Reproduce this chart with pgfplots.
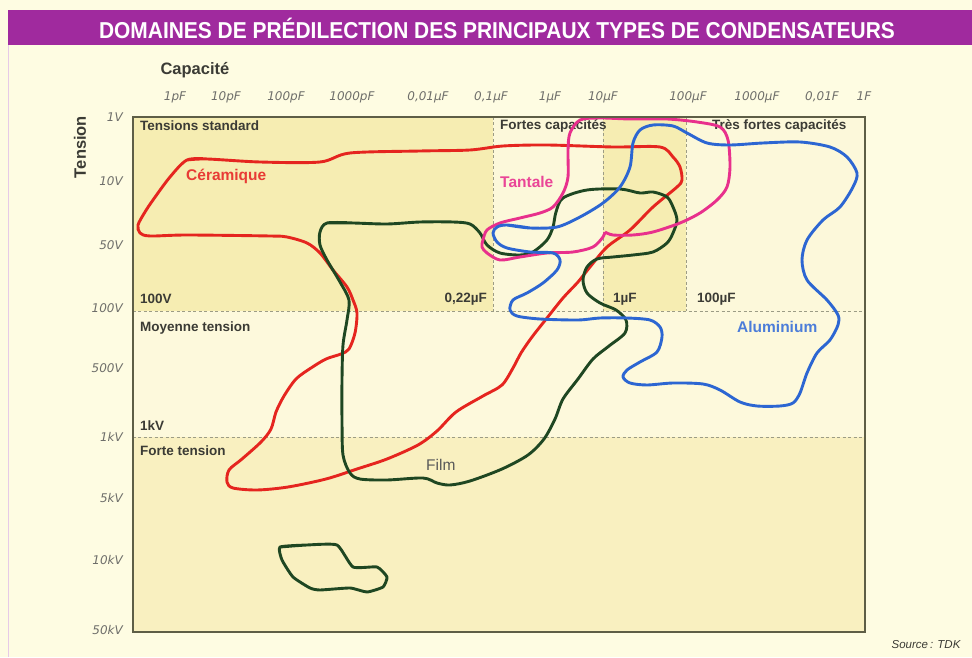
\documentclass[border=0pt]{standalone}
\usepackage{fontspec}
\setmainfont{Liberation Sans}
\newfontfamily\titlefont[FakeStretch=0.91]{Liberation Sans}
\newfontfamily\tickfont{DejaVu Sans}
\usepackage{pgfplots}
\pgfplotsset{compat=1.18}
\definecolor{bgc}{HTML}{FEFCE2}
\definecolor{darkband}{HTML}{F6EDB2}
\definecolor{lightband}{HTML}{FCF8DA}
\definecolor{lowband}{HTML}{F9F0C0}
\definecolor{titlec}{HTML}{A02A9E}
\definecolor{framec}{HTML}{5E5E46}
\definecolor{dashc}{HTML}{9C9C85}
\definecolor{txtc}{HTML}{3B3B35}
\definecolor{tickc}{HTML}{6E6E6A}
\definecolor{redc}{HTML}{E5251F}
\definecolor{magc}{HTML}{E8308C}
\definecolor{bluec}{HTML}{2C66D2}
\definecolor{greenc}{HTML}{1F4722}
\newcommand\lbl{\fontsize{13.5}{15}\selectfont\bfseries\color{txtc}}
\newcommand\clbl{\fontsize{15.5}{17}\selectfont\bfseries}
\begin{document}
\begin{tikzpicture}
\begin{axis}[
  scale only axis, width=732pt, height=515pt,
  xmin=133, xmax=865, ymin=117, ymax=632, y dir=reverse,
  clip=false, axis on top,
  axis line style={draw=framec, line width=1.1pt},
  major tick length=0pt,
  xticklabel pos=upper,
  xtick={175,226,286,352,428,491,550,603,688,757,822,864},
  xticklabels={1pF,10pF,100pF,1000pF,{0,01µF},{0,1µF},1µF,10µF,100µF,1000µF,{0,01F},1F},
  ytick={117,181,245,308,368,437,498,560,630},
  yticklabels={1V,10V,50V,100V,500V,1kV,5kV,10kV,50kV},
  xticklabel style={anchor=base, inner sep=0pt, yshift=16pt, font=\tickfont\itshape\fontsize{12}{13}\selectfont, text=tickc},
  yticklabel style={anchor=east, inner sep=0pt, xshift=-10pt, font=\tickfont\itshape\fontsize{12}{13}\selectfont, text=tickc},
]
% page background and title
\fill[bgc] (axis cs:0,0) rectangle (axis cs:972,657);
\draw[titlec!25, line width=0.8pt] (axis cs:8,45) -- (axis cs:8,657);
\fill[titlec] (axis cs:8,10) rectangle (axis cs:972,45);
\node[text=white, font=\titlefont\bfseries\fontsize{23}{25}\selectfont] at (axis cs:497,28) {DOMAINES DE PRÉDILECTION DES PRINCIPAUX TYPES DE CONDENSATEURS};
% bands
\fill[darkband] (axis cs:133,117) rectangle (axis cs:493,311);
\fill[lightband] (axis cs:493,117) rectangle (axis cs:603,311);
\fill[darkband] (axis cs:603,117) rectangle (axis cs:686,311);
\fill[lightband] (axis cs:686,117) rectangle (axis cs:865,311);
\fill[lightband!70!bgc] (axis cs:133,311) rectangle (axis cs:865,437);
\fill[lowband] (axis cs:133,437) rectangle (axis cs:865,632);
\draw[dashc, line width=0.9pt, dash pattern=on 3pt off 2.5pt] (axis cs:133,311) -- (axis cs:865,311);
\draw[dashc, line width=0.9pt, dash pattern=on 3pt off 2.5pt] (axis cs:133,437) -- (axis cs:865,437);
\draw[dashc, line width=0.9pt, dash pattern=on 3pt off 2.5pt] (axis cs:493,117) -- (axis cs:493,311);
\draw[dashc, line width=0.9pt, dash pattern=on 3pt off 2.5pt] (axis cs:603,117) -- (axis cs:603,311);
\draw[dashc, line width=0.9pt, dash pattern=on 3pt off 2.5pt] (axis cs:686,117) -- (axis cs:686,311);
% axis titles
\node[anchor=west, font=\bfseries\fontsize{16.5}{18}\selectfont, text=txtc] at (axis cs:157,70) {Capacité};
\node[rotate=90, font=\bfseries\fontsize{16.5}{18}\selectfont, text=txtc] at (axis cs:80,147) {Tension};
\node[anchor=east, font=\itshape\fontsize{11.5}{13}\selectfont, text=txtc] at (axis cs:964,645) {Source\,: TDK};
% region labels
\node[anchor=west, inner sep=0pt] at (axis cs:140,126) {\lbl Tensions standard};
\node[anchor=west, inner sep=0pt] at (axis cs:500,126) {\lbl Fortes capacités};
\node[anchor=west, inner sep=0pt] at (axis cs:712,126) {\lbl Très fortes capacités};
\node[anchor=west, inner sep=0pt] at (axis cs:140,299) {\lbl 100V};
\node[anchor=east, inner sep=0pt] at (axis cs:487,299) {\lbl 0,22µF};
\node[anchor=west, inner sep=0pt] at (axis cs:613,299) {\lbl 1µF};
\node[anchor=west, inner sep=0pt] at (axis cs:697,299) {\lbl 100µF};
\node[anchor=west, inner sep=0pt] at (axis cs:140,328) {\lbl Moyenne tension};
\node[anchor=west, inner sep=0pt] at (axis cs:140,426) {\lbl 1kV};
\node[anchor=west, inner sep=0pt] at (axis cs:140,451) {\lbl Forte tension};
\node[anchor=west, inner sep=0pt, text=redc!90!white] at (axis cs:186,176) {\clbl Céramique};
\node[anchor=west, inner sep=0pt, text=magc!90!white] at (axis cs:500,182) {\clbl Tantale};
\node[anchor=west, inner sep=0pt, text=bluec!85!white] at (axis cs:737,327) {\clbl Aluminium};
\node[anchor=west, inner sep=0pt, text=black!65] at (axis cs:426,465) {\fontsize{15.5}{17}\selectfont Film};
% Ceramique
\addplot[redc, line width=2.9pt, smooth, tension=0.5, line join=round] coordinates {
(187,160)(207,159)(260,162)(320,162)(350,153)(420,151)(470,150)(503,146)(547,145)(613,147)(660,147)(673,157)(680,167)(682,180)(677,187)(653,207)(630,230)(607,247)(590,267)(578,282)(563,298)(547,318)(532,337)(521,353)(513,368)(502,385)(483,396)(456,412)(437,431)(418,445)(387,459)(357,469)(326,479)(288,487)(257,490)(233,488)(227,482)(229,470)(242,459)(261,442)(271,429)(276,412)(284,396)(296,379)(311,368)(326,359)(341,354)(349,349)(355,333)(357,313)(353,300)(347,287)(333,270)(320,253)(307,243)(287,237)(270,236)(187,235)(150,236)(140,233)(138,225)(145,212)(153,200)(170,177)(187,160)(207,159)
};
% Film
\addplot[greenc, line width=2.9pt, smooth, tension=0.5, line join=round] coordinates {
(327,223)(353,223)(387,224)(420,222)(453,222)(470,224)(480,233)(487,245)(500,253)(520,255)(533,252)(547,240)(553,227)(556,212)(563,198)(587,190)(620,189)(640,193)(653,192)(667,197)(673,207)(677,220)(673,233)(667,243)(653,252)(633,255)(613,257)(597,259)(587,267)(583,280)(587,293)(600,303)(616,310)(626,320)(625,333)(609,346)(593,359)(578,379)(563,399)(555,419)(544,439)(528,455)(502,469)(470,481)(450,485)(437,483)(423,478)(387,480)(360,479)(350,473)(343,455)(342,420)(342,380)(343,345)(347,320)(349,300)(340,282)(327,260)(320,245)(320,232)(327,223)(353,223)
};
\addplot[greenc, line width=2.9pt, smooth, tension=0.3, line join=round] coordinates {
(280,547)(307,545)(337,545)(353,567)(377,567)(387,577)(383,587)(367,592)(350,588)(320,590)(310,588)(293,577)(282,560)(280,547)(307,545)
};
% Tantale
\addplot[magc, line width=2.9pt, smooth, tension=0.5, line join=round] coordinates {
(605,232)(603,237)(593,247)(573,252)(547,253)(520,257)(500,260)(487,253)(482,247)(483,240)(487,230)(500,223)(520,218)(540,213)(553,207)(563,193)(568,177)(568,150)(570,133)(580,120)(600,118)(630,119)(667,119)(697,122)(720,127)(728,140)(730,167)(727,187)(717,200)(700,213)(680,223)(653,232)(633,235)(613,235)(605,232)
};
% Aluminium
\addplot[bluec, line width=2.9pt, smooth, tension=0.5, line join=round] coordinates {
(507,225)(530,228)(557,227)(580,217)(603,203)(620,187)(630,167)(633,143)(640,130)(653,125)(673,126)(687,133)(707,143)(730,145)(763,143)(800,142)(830,147)(847,157)(857,173)(853,187)(840,207)(823,220)(807,240)(802,260)(807,280)(827,300)(838,315)(838,325)(830,340)(817,353)(807,373)(800,393)(793,403)(780,406)(757,406)(740,402)(720,390)(703,384)(673,383)(647,385)(630,383)(623,377)(627,370)(640,362)(657,352)(662,337)(660,327)(650,320)(627,318)(600,318)(578,320)(540,319)(517,316)(510,310)(513,300)(527,293)(543,283)(557,270)(560,260)(553,253)(530,252)(507,248)(497,242)(493,233)(497,227)(507,225)(530,228)
};
\end{axis}
\end{tikzpicture}
\end{document}
